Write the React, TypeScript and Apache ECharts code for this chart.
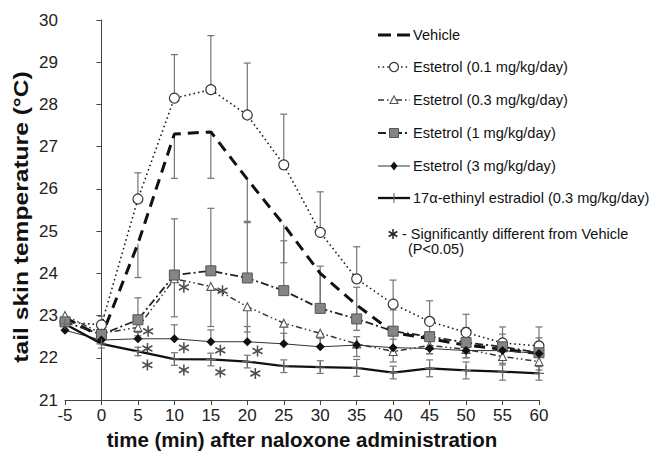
import React, { useEffect, useRef } from "react";
import * as echarts from "echarts";

const times = [-5, 0, 5, 10, 15, 20, 25, 30, 35, 40, 45, 50, 55, 60];

const vehicle = [22.95, 22.5, 24.7, 27.3, 27.35, 26.23, 25.15, 24.0, 23.25, 22.6, 22.45, 22.3, 22.2, 22.1];
const vehicleErrDown = [0.15, 0.15, 0.8, 1.05, 1.1, 1.0, 0.9, 0.8, 0.6, 0.45, 0.35, 0.3, 0.25, 0.25];

const e01 = [22.85, 22.78, 25.76, 28.15, 28.35, 27.75, 26.57, 24.97, 23.87, 23.27, 22.86, 22.6, 22.35, 22.28];
const e01ErrUp = [0.1, 0.2, 0.62, 1.03, 1.28, 1.23, 1.2, 0.96, 0.76, 0.57, 0.49, 0.43, 0.38, 0.45];

const e03 = [23.0, 22.58, 22.72, 23.87, 23.69, 23.21, 22.82, 22.58, 22.33, 22.15, 22.29, 22.2, 22.03, 21.91];
const e03ErrDown = [0.12, 0.1, 0.2, 0.9, 0.95, 0.6, 0.5, 0.3, 0.3, 0.25, 0.2, 0.2, 0.2, 0.2];

const e1 = [22.85, 22.55, 22.9, 23.96, 24.06, 23.89, 23.59, 23.17, 22.92, 22.63, 22.5, 22.36, 22.26, 22.12];
const e1ErrUp = [0.1, 0.15, 0.52, 1.33, 1.48, 1.31, 1.18, 1.0, 0.75, 0.5, 0.42, 0.35, 0.3, 0.35];

const e3 = [22.65, 22.42, 22.45, 22.45, 22.38, 22.38, 22.33, 22.26, 22.3, 22.24, 22.22, 22.17, 22.17, 22.1];
const e3ErrUp = [0.1, 0.1, 0.15, 0.33, 0.28, 0.36, 0.25, 0.2, 0.2, 0.2, 0.2, 0.2, 0.2, 0.2];

const ee = [22.8, 22.33, 22.15, 21.97, 21.96, 21.91, 21.8, 21.78, 21.76, 21.65, 21.75, 21.7, 21.67, 21.63];
const eeErr = [0.15, 0.1, 0.1, 0.15, 0.15, 0.15, 0.15, 0.15, 0.2, 0.15, 0.2, 0.2, 0.2, 0.16];

const asteriskX = [6.4, 11.3, 16.6, 6.3, 11.3, 16.3, 21.4, 6.3, 11.3, 16.3, 21.1];
const asteriskY = [22.63, 23.67, 23.59, 22.22, 22.24, 22.18, 22.16, 21.83, 21.71, 21.66, 21.63];

const names = [
  "Vehicle",
  "Estetrol (0.1 mg/kg/day)",
  "Estetrol (0.3 mg/kg/day)",
  "Estetrol (1 mg/kg/day)",
  "Estetrol (3 mg/kg/day)",
  "17\u03b1-ethinyl estradiol (0.3 mg/kg/day)",
];
const sigNote = "- Significantly different from Vehicle";
const sigNote2 = "(P<0.05)";
const yTitle = "tail skin temperature (\u00b0C)";
const xTitle = "time (min) after naloxone administration";

const FONT = "Liberation Sans, Arial, sans-serif";
const ERR_COLOR = "#747474";
const PLUS = "path://M0,-5L0,5M-5,0L5,0";
const STAR = "path://M0,-5L0,5M-4.33,-2.5L4.33,2.5M-4.33,2.5L4.33,-2.5";

function errSeries(vals: number[], errs: number[], dir: number) {
  const data = times.map((t, i) => [t, vals[i], vals[i] + dir * errs[i]]);
  return {
    type: "custom",
    z: 1,
    silent: true,
    encode: { x: 0, y: 1 },
    data,
    renderItem: (params: any, api: any) => {
      const x = api.value(0);
      const y = api.value(1);
      const e = api.value(2);
      const p1 = api.coord([x, y]);
      const p2 = api.coord([x, e]);
      const st = { stroke: ERR_COLOR, lineWidth: 1.2 };
      return {
        type: "group",
        children: [
          { type: "line", shape: { x1: p1[0], y1: p1[1], x2: p2[0], y2: p2[1] }, style: st },
          { type: "line", shape: { x1: p2[0] - 3.5, y1: p2[1], x2: p2[0] + 3.5, y2: p2[1] }, style: st },
        ],
      };
    },
  };
}

function pts(vals: number[]) {
  return times.map((t, i) => [t, vals[i]]);
}

function legendGraphics() {
  const ys = [35, 67, 100, 133, 166, 198];
  const x1 = 378;
  const x2 = 410;
  const sx = 394;
  const out: any[] = [];
  const line = (y: number, style: any) => ({
    type: "line",
    shape: { x1, y1: y, x2, y2: y },
    style: { stroke: "#111", ...style },
    z: 10,
  });
  out.push(line(ys[0], { lineWidth: 3, lineDash: [13, 6] }));
  out.push(line(ys[1], { lineWidth: 1.6, lineDash: [1.6, 3], stroke: "#222" }));
  out.push({ type: "circle", shape: { cx: sx, cy: ys[1], r: 4.5 }, style: { fill: "#fff", stroke: "#333", lineWidth: 1.2 }, z: 11 });
  out.push(line(ys[2], { lineWidth: 1.5, lineDash: [6, 3, 1.5, 3, 1.5, 3], stroke: "#333" }));
  out.push({
    type: "polygon",
    shape: { points: [[sx, ys[2] - 4], [sx - 4, ys[2] + 3.5], [sx + 4, ys[2] + 3.5]] },
    style: { fill: "#fff", stroke: "#555", lineWidth: 1.1 },
    z: 11,
  });
  out.push(line(ys[3], { lineWidth: 1.8, lineDash: [8, 3, 2, 3], stroke: "#222" }));
  out.push({ type: "rect", shape: { x: sx - 4.5, y: ys[3] - 4.5, width: 9, height: 9 }, style: { fill: "#858585", stroke: "#555", lineWidth: 1 }, z: 11 });
  out.push(line(ys[4], { lineWidth: 1, stroke: "#333" }));
  out.push({
    type: "polygon",
    shape: { points: [[sx, ys[4] - 4.5], [sx + 3.5, ys[4]], [sx, ys[4] + 4.5], [sx - 3.5, ys[4]]] },
    style: { fill: "#111" },
    z: 11,
  });
  out.push(line(ys[5], { lineWidth: 2.3 }));
  out.push({ type: "line", shape: { x1: sx, y1: ys[5] - 5, x2: sx, y2: ys[5] + 5 }, style: { stroke: "#666", lineWidth: 1.1 }, z: 11 });
  names.forEach((n, i) => {
    out.push({
      type: "text",
      x: 413,
      y: ys[i],
      z: 11,
      style: { text: n, fontFamily: FONT, fontSize: 14.6, fill: "#111", align: "left", verticalAlign: "middle" },
    });
  });
  const ay = 234;
  const ax = 393;
  const st = { stroke: "#222", lineWidth: 1.5 };
  out.push({ type: "line", shape: { x1: ax, y1: ay - 5, x2: ax, y2: ay + 5 }, style: st });
  out.push({ type: "line", shape: { x1: ax - 4.3, y1: ay - 2.5, x2: ax + 4.3, y2: ay + 2.5 }, style: st });
  out.push({ type: "line", shape: { x1: ax - 4.3, y1: ay + 2.5, x2: ax + 4.3, y2: ay - 2.5 }, style: st });
  out.push({
    type: "text",
    x: 402,
    y: ay,
    style: { text: sigNote, fontFamily: FONT, fontSize: 14.5, fill: "#111", align: "left", verticalAlign: "middle" },
  });
  out.push({
    type: "text",
    x: 408,
    y: ay + 15,
    style: { text: sigNote2, fontFamily: FONT, fontSize: 14.5, fill: "#111", align: "left", verticalAlign: "middle" },
  });
  out.push({
    type: "text",
    x: 21,
    y: 217,
    rotation: Math.PI / 2,
    scaleX: 1.23,
    style: { text: yTitle, fontFamily: FONT, fontSize: 20, fontWeight: "bold", fill: "#111", align: "center", verticalAlign: "middle" },
  });
  return out;
}

export default function App() {
  const ref = useRef<HTMLDivElement>(null);
  useEffect(() => {
    if (!ref.current) return;
    document.body.style.margin = "0";
    const chart = echarts.init(ref.current, null, { renderer: "svg" });
    const option: any = {
      animation: false,
      backgroundColor: "#fff",
      grid: { left: 65, right: 115, top: 20, bottom: 56 },
      xAxis: {
        type: "value",
        min: -5,
        max: 60,
        interval: 5,
        name: xTitle,
        nameLocation: "middle",
        nameGap: 29,
        nameTextStyle: { fontFamily: FONT, fontSize: 20.5, fontWeight: "bold", color: "#111" },
        axisLine: { lineStyle: { color: "#444", width: 1 } },
        axisTick: { length: 5, lineStyle: { color: "#444" } },
        axisLabel: { fontFamily: FONT, fontSize: 17, color: "#222", margin: 7 },
        splitLine: { show: false },
      },
      yAxis: {
        type: "value",
        min: 21,
        max: 30,
        interval: 1,
        axisLine: { show: true, lineStyle: { color: "#444", width: 1 } },
        axisTick: { show: true, length: 5, lineStyle: { color: "#444" } },
        axisLabel: { fontFamily: FONT, fontSize: 17, color: "#222", margin: 7 },
        splitLine: { show: false },
      },
      graphic: legendGraphics(),
      series: [
        errSeries(vehicle, vehicleErrDown, -1),
        errSeries(e01, e01ErrUp, 1),
        errSeries(e03, e03ErrDown, -1),
        errSeries(e1, e1ErrUp, 1),
        errSeries(e3, e3ErrUp, 1),
        errSeries(ee, eeErr, 1),
        errSeries(ee, eeErr, -1),
        {
          name: names[0],
          type: "line",
          z: 3,
          data: pts(vehicle),
          showSymbol: false,
          symbol: "none",
          lineStyle: { color: "#111", width: 3, type: [11, 7] },
        },
        {
          name: names[1],
          type: "line",
          z: 4,
          data: pts(e01),
          symbol: "circle",
          symbolSize: 10,
          lineStyle: { color: "#222", width: 1.6, type: [1.6, 3] },
          itemStyle: { color: "#fff", borderColor: "#333", borderWidth: 1.2 },
        },
        {
          name: names[2],
          type: "line",
          z: 4,
          data: pts(e03),
          symbol: "triangle",
          symbolSize: 8,
          lineStyle: { color: "#333", width: 1.5, type: [6, 3, 1.5, 3, 1.5, 3] },
          itemStyle: { color: "#fff", borderColor: "#555", borderWidth: 1.1 },
        },
        {
          name: names[3],
          type: "line",
          z: 4,
          data: pts(e1),
          symbol: "rect",
          symbolSize: 10,
          lineStyle: { color: "#222", width: 1.8, type: [8, 3, 2, 3] },
          itemStyle: { color: "#858585", borderColor: "#555", borderWidth: 1 },
        },
        {
          name: names[4],
          type: "line",
          z: 4,
          data: pts(e3),
          symbol: "diamond",
          symbolSize: 9,
          lineStyle: { color: "#333", width: 1 },
          itemStyle: { color: "#111" },
        },
        {
          name: names[5],
          type: "line",
          z: 4,
          data: pts(ee),
          symbol: PLUS,
          symbolSize: 10,
          lineStyle: { color: "#111", width: 2.3 },
          itemStyle: { color: "#666", borderColor: "#666", borderWidth: 1.1 },
        },
        {
          name: "asterisks",
          type: "scatter",
          z: 5,
          data: asteriskX.map((x, i) => [x, asteriskY[i]]),
          symbol: STAR,
          symbolSize: [10, 11],
          itemStyle: { color: "#222", borderColor: "#222", borderWidth: 1.6 },
        },
      ],
    };
    chart.setOption(option);
    return () => chart.dispose();
  }, []);
  return <div ref={ref} style={{ width: 654, height: 456 }} />;
}
